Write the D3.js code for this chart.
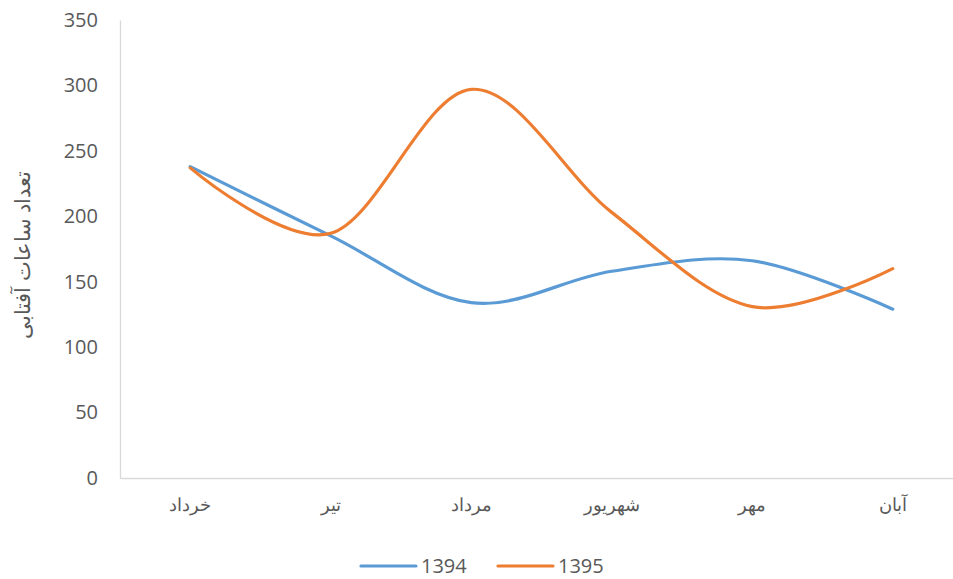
<!DOCTYPE html>
<html>
<head>
<meta charset="utf-8">
<script src="https://cdn.jsdelivr.net/npm/d3@7"></script>
<style>
  html, body { margin: 0; padding: 0; background: #fff; }
  svg { display: block; font-family: "Open Sans", "Noto Sans", sans-serif; }
</style>
</head>
<body>
<svg id="chart" width="953" height="579"></svg>
<script>
// Monthly sunshine hours, two years
const months = ["خرداد", "تیر", "مرداد", "شهریور", "مهر", "آبان"];
const series1394 = [238, 185, 134, 158, 166, 129];
const series1395 = [237, 187, 297, 203, 131, 160];
const seriesNames = ["1394", "1395"];
const seriesColors = ["#5B9BD5", "#ED7D31"];
const yTicks = [0, 50, 100, 150, 200, 250, 300, 350];
const yTitle = "تعداد ساعات آفتابی";

const svg = d3.select("#chart");
const plot = { left: 120, right: 963, top: 20, bottom: 478 };

const x = d3.scaleBand().domain(months).range([plot.left, plot.right]);
const y = d3.scaleLinear().domain([0, 350]).range([plot.bottom, plot.top]);

// y axis: line plus tick labels
const yAxis = d3.axisLeft(y).tickValues(yTicks).tickSize(0).tickPadding(22);
const gy = svg.append("g").attr("transform", `translate(${plot.left},0)`).call(yAxis);
gy.select(".domain").attr("stroke", "#d9d9d9").attr("stroke-width", 1.3);
gy.selectAll("text").attr("fill", "#595959").style("font-size", "20px")
  .style("font-family", "'Open Sans', sans-serif");

// x axis: baseline plus category labels
const xAxis = d3.axisBottom(x).tickSize(0).tickPadding(20);
const gx = svg.append("g").attr("transform", `translate(0,${plot.bottom})`).call(xAxis);
gx.select(".domain").attr("stroke", "#d9d9d9").attr("stroke-width", 1.3);
gx.selectAll("text").attr("fill", "#595959").style("font-size", "18px")
  .style("font-family", "'Liberation Sans', 'Noto Sans', sans-serif");

// axis title
svg.append("text")
  .attr("transform", `translate(30,${(plot.top + plot.bottom) / 2 + 6}) rotate(-90)`)
  .attr("text-anchor", "middle")
  .attr("fill", "#595959")
  .style("font-size", "21px")
  .style("font-family", "'Liberation Sans', 'Noto Sans', sans-serif")
  .text(yTitle);

// smoothed lines
const line = d3.line()
  .x((d, i) => x(months[i]) + x.bandwidth() / 2)
  .y(d => y(d))
  .curve(d3.curveCatmullRom.alpha(0));

[series1394, series1395].forEach((vals, i) => {
  svg.append("path")
    .datum(vals)
    .attr("fill", "none")
    .attr("stroke", seriesColors[i])
    .attr("stroke-width", 3.2)
    .attr("stroke-linecap", "round")
    .attr("stroke-linejoin", "round")
    .attr("d", line);
});

// legend
const legend = svg.append("g").attr("transform", "translate(361,566)");
const legendX = [0, 137];
seriesNames.forEach((name, i) => {
  const g = legend.append("g").attr("transform", `translate(${legendX[i]},0)`);
  g.append("line").attr("x1", 0).attr("x2", 55).attr("y1", 0).attr("y2", 0)
    .attr("stroke", seriesColors[i]).attr("stroke-width", 3.2).attr("stroke-linecap", "round");
  g.append("text").attr("x", 60).attr("y", 7).attr("fill", "#595959")
    .style("font-size", "20px").text(name);
});
</script>
</body>
</html>
